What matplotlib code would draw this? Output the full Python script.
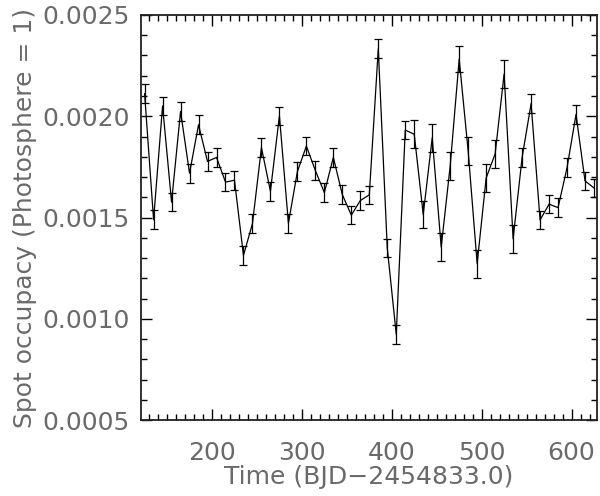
import numpy as np
import matplotlib
matplotlib.use("Agg")
import matplotlib.pyplot as plt
from matplotlib.ticker import MultipleLocator, FormatStrFormatter

# Time (BJD-2454833.0)
time = [125, 135, 145, 155, 165, 175, 185, 195, 205, 215,
        225, 235, 245, 255, 265, 275, 285, 295, 305, 315,
        325, 335, 345, 355, 365, 375, 385, 395, 405, 415,
        425, 435, 445, 455, 465, 475, 485, 495, 505, 515,
        525, 535, 545, 555, 565, 575, 585, 595, 605, 615,
        625]
occupancy = [0.002112, 0.001489, 0.002051, 0.001576, 0.002024, 0.001719, 0.001958, 0.001777, 0.001797, 0.001675,
             0.001684, 0.001313, 0.001470, 0.001845, 0.001630, 0.002002, 0.001472, 0.001727, 0.001853, 0.001732,
             0.001623, 0.001797, 0.001613, 0.001512, 0.001584, 0.001612, 0.002333, 0.001349, 0.000923, 0.001932,
             0.001911, 0.001515, 0.001894, 0.001354, 0.001755, 0.002282, 0.001828, 0.001272, 0.001695, 0.001814,
             0.002209, 0.001395, 0.001796, 0.002062, 0.001488, 0.001566, 0.001549, 0.001746, 0.002009, 0.001681,
             0.001646]
error = [0.000046] * 30 + [0.000069] * 5 + [0.000065] + [0.000069] * 6 + [0.000046] * 9

xticks = [200, 300, 400, 500, 600]
yticks = [0.0005, 0.0010, 0.0015, 0.0020, 0.0025]

plt.rcParams['font.family'] = ['DejaVu Sans']
txt_color = '#6a6a6a'
fs = 18

fig = plt.figure(figsize=(6.0, 4.96), dpi=100)
ax = fig.add_axes([0.235, 0.153, 0.7595, 0.8168])

ax.errorbar(time, occupancy, yerr=error, color='black', lw=0.9,
            elinewidth=0.9, capsize=3.2, capthick=0.9)

ax.set_xlim(121, 628)
ax.set_ylim(0.0005, 0.0025)
ax.set_xticks(xticks)
ax.set_yticks(yticks)
ax.yaxis.set_major_formatter(FormatStrFormatter('%.4f'))
ax.xaxis.set_minor_locator(MultipleLocator(10))
ax.yaxis.set_minor_locator(MultipleLocator(0.0001))

ax.tick_params(which='both', direction='in', top=True, right=True,
               width=1.0, color='black')
ax.tick_params(which='major', length=8)
ax.tick_params(which='minor', length=4)
ax.tick_params(axis='x', which='major', pad=15, labelsize=fs, labelcolor=txt_color)
ax.tick_params(axis='y', which='major', pad=8, labelsize=fs, labelcolor=txt_color)

for s in ax.spines.values():
    s.set_linewidth(1.3)
    s.set_color('#222222')

ax.set_xlabel('Time (BJD\u22122454833.0)', fontsize=fs, color=txt_color,
              labelpad=0)
ax.set_ylabel('Spot occupacy (Photosphere = 1)', fontsize=fs, color=txt_color,
              labelpad=4)

fig.savefig('out.png', dpi=100)
